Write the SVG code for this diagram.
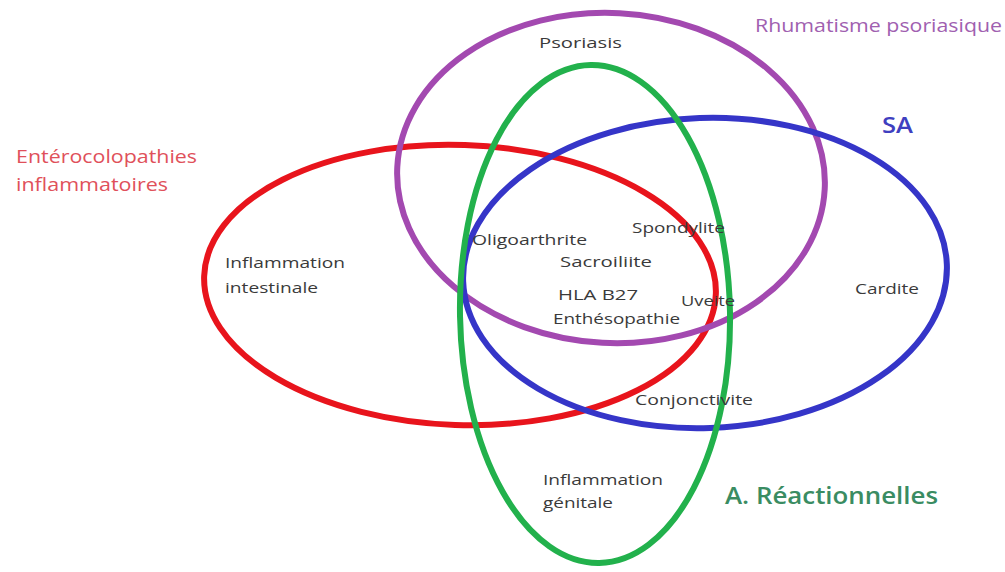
<svg xmlns="http://www.w3.org/2000/svg" width="1005" height="572" viewBox="0 0 1005 572">
<style>
.ring{fill:none;stroke-width:6}
.t{font-family:"Open Sans","Liberation Sans",sans-serif;font-size:15px;fill:#3a3a3a}
.lab{font-family:"Open Sans","Liberation Sans",sans-serif}
</style>
<rect width="1005" height="572" fill="#ffffff"/>
<g id="connectors"></g>
<g id="enterocolopathies">
<ellipse class="ring" cx="460" cy="285" rx="256" ry="140" transform="rotate(2 460 285)" stroke="#e8141c"/>
<text class="lab" x="16" y="163" font-size="19" fill="#e0505a" textLength="181" lengthAdjust="spacingAndGlyphs">Entérocolopathies</text>
<text class="lab" x="16" y="191" font-size="19" fill="#e0505a" textLength="152" lengthAdjust="spacingAndGlyphs">inflammatoires</text>
<text class="t" x="225" y="268" textLength="120" lengthAdjust="spacingAndGlyphs">Inflammation</text>
<text class="t" x="225" y="293" textLength="93" lengthAdjust="spacingAndGlyphs">intestinale</text>
</g>
<g id="rhumatisme">
<ellipse class="ring" cx="611" cy="178" rx="214" ry="165" transform="rotate(3 611 178)" stroke="#a349b0"/>
<text class="lab" x="755" y="32" font-size="18" fill="#a060b0" textLength="247" lengthAdjust="spacingAndGlyphs">Rhumatisme psoriasique</text>
<text class="t" x="539" y="48" textLength="83" lengthAdjust="spacingAndGlyphs">Psoriasis</text>
</g>
<g id="sa">
<ellipse class="ring" cx="705" cy="273" rx="242" ry="155" transform="rotate(-2 705 273)" stroke="#3535c8"/>
<text class="lab" x="882" y="133" font-size="21" font-weight="600" fill="#3f3fc0" textLength="31" lengthAdjust="spacingAndGlyphs">SA</text>
<text class="t" x="855" y="294" textLength="64" lengthAdjust="spacingAndGlyphs">Cardite</text>
</g>
<g id="reactionnelles">
<ellipse class="ring" cx="595" cy="314" rx="135" ry="249" transform="rotate(-1 595 314)" stroke="#22b14c"/>
<text class="lab" x="725" y="504" font-size="24" font-weight="600" fill="#3a8c62" textLength="213" lengthAdjust="spacingAndGlyphs">A. Réactionnelles</text>
<text class="t" x="543" y="485" textLength="120" lengthAdjust="spacingAndGlyphs">Inflammation</text>
<text class="t" x="543" y="508" textLength="70" lengthAdjust="spacingAndGlyphs">génitale</text>
</g>
<g id="centre">
<text class="t" x="472" y="245" textLength="115" lengthAdjust="spacingAndGlyphs">Oligoarthrite</text>
<text class="t" x="632" y="233" textLength="93" lengthAdjust="spacingAndGlyphs">Spondylite</text>
<text class="t" x="560" y="267" textLength="92" lengthAdjust="spacingAndGlyphs">Sacroiliite</text>
<text class="t" x="558" y="300" font-size="18" fill="#1a1a1a" textLength="80" lengthAdjust="spacingAndGlyphs">HLA B27</text>
<text class="t" x="681" y="306" textLength="54" lengthAdjust="spacingAndGlyphs">Uveite</text>
<text class="t" x="553" y="324" textLength="127" lengthAdjust="spacingAndGlyphs">Enthésopathie</text>
<text class="t" x="635" y="405" textLength="118" lengthAdjust="spacingAndGlyphs">Conjonctivite</text>
</g>
</svg>
